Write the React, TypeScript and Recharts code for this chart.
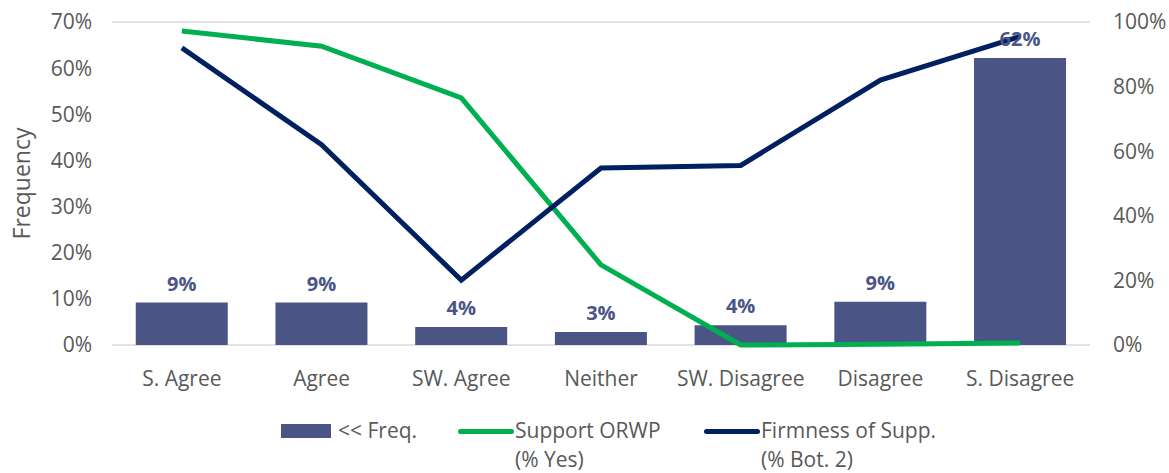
import { ComposedChart, Bar, Line, XAxis, YAxis, CartesianGrid, LabelList, Label } from "recharts";

const CATEGORIES = ["S. Agree", "Agree", "SW. Agree", "Neither", "SW. Disagree", "Disagree", "S. Disagree"];
const FREQ = [9.2, 9.2, 3.9, 2.8, 4.3, 9.4, 62.2];
const SUPPORT = [97.2, 92.5, 76.5, 24.8, 0, 0.2, 0.6];
const FIRMNESS = [92, 62, 20.1, 54.8, 55.6, 82, 95.5];
const LEFT_TICKS = [0, 10, 20, 30, 40, 50, 60, 70];
const RIGHT_TICKS = [0, 20, 40, 60, 80, 100];

const BAR = "#4a5586";
const GREEN = "#00b050";
const NAVY = "#002060";
const TXT = "#595959";
const FONT = "'Open Sans', sans-serif";

const data = CATEGORIES.map((c, i) => ({ name: c, freq: FREQ[i], support: SUPPORT[i], firmness: FIRMNESS[i] }));

function ChartLegend() {
  const txt = { fontSize: 21, color: TXT, lineHeight: "29px", whiteSpace: "nowrap" as const };
  return (
    <div style={{ position: "absolute", left: 0, top: 416, width: 1169, height: 56, fontFamily: FONT }}>
      <div style={{ position: "absolute", left: 281, top: 8, width: 50, height: 14, background: BAR }} />
      <div style={{ ...txt, position: "absolute", left: 338, top: 0 }}>{"<< Freq."}</div>
      <div style={{ position: "absolute", left: 458, top: 13, width: 56, height: 5, borderRadius: 3, background: GREEN }} />
      <div style={{ ...txt, position: "absolute", left: 515, top: 0 }}>Support ORWP<br />(% Yes)</div>
      <div style={{ position: "absolute", left: 704, top: 13, width: 56, height: 5, borderRadius: 3, background: NAVY }} />
      <div style={{ ...txt, position: "absolute", left: 761, top: 0 }}>Firmness of Supp.<br />(% Bot. 2)</div>
    </div>
  );
}

export default function App() {
  const tick = { fontSize: 21, fill: TXT, fontFamily: FONT };
  return (
    <div style={{ position: "absolute", left: 0, top: 0, width: 1169, height: 473, background: "#fff" }}>
      <ComposedChart width={1169} height={473} data={data} margin={{ top: 22, right: 0, bottom: 0, left: 0 }} barCategoryGap="17%">
        <CartesianGrid vertical={false} stroke="#d9d9d9" strokeWidth={1.5} />
        <XAxis dataKey="name" axisLine={false} tickLine={false} tickSize={0} tickMargin={26} height={128} tick={tick} interval={0} />
        <YAxis yAxisId="l" domain={[0, 70]} ticks={LEFT_TICKS} tickFormatter={(v) => `${v}%`} axisLine={false} tickLine={false} tickSize={0} tickMargin={20} width={112} tick={tick}>
          <Label value="Frequency" angle={-90} position="insideLeft" offset={22} style={{ fontSize: 23, fill: TXT, fontFamily: FONT, textAnchor: "middle" }} />
        </YAxis>
        <YAxis yAxisId="r" orientation="right" domain={[0, 100]} ticks={RIGHT_TICKS} tickFormatter={(v) => `${v}%`} axisLine={false} tickLine={false} tickSize={0} tickMargin={23} width={79} tick={tick} />
        <Bar yAxisId="l" dataKey="freq" fill={BAR} isAnimationActive={false}>
          <LabelList dataKey="freq" position="top" offset={12} formatter={(v: number) => `${Math.round(v)}%`} style={{ fontSize: 20, fontWeight: 700, fill: BAR, fontFamily: FONT }} />
        </Bar>
        <Line yAxisId="r" dataKey="support" stroke={GREEN} strokeWidth={5} dot={false} isAnimationActive={false} />
        <Line yAxisId="r" dataKey="firmness" stroke={NAVY} strokeWidth={5} dot={false} isAnimationActive={false} />
      </ComposedChart>
      <ChartLegend />
    </div>
  );
}
